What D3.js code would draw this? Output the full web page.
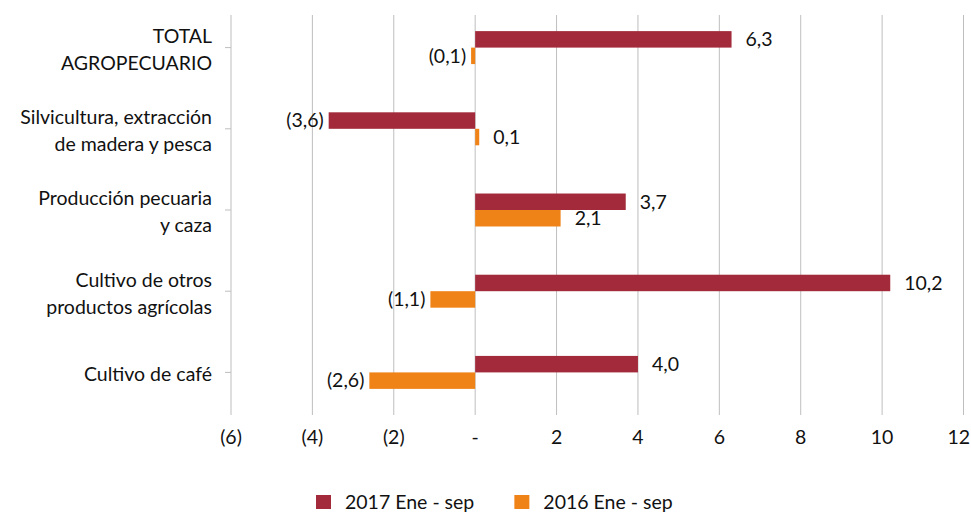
<!DOCTYPE html>
<html>
<head>
<meta charset="utf-8">
<script src="https://cdn.jsdelivr.net/npm/d3@7"></script>
<style>
  body { margin: 0; background: #fff; }
  svg { display: block; font-family: Lato, "Open Sans", sans-serif; }
</style>
</head>
<body>
<svg id="chart" width="971" height="513"></svg>
<script>
// data
const categories = [
  ["TOTAL", "AGROPECUARIO"],
  ["Silvicultura, extracción", "de madera y pesca"],
  ["Producción pecuaria", "y caza"],
  ["Cultivo de otros", "productos agrícolas"],
  ["Cultivo de café"]
];
const seriesNames = ["2017 Ene - sep", "2016 Ene - sep"];
const values2017 = [6.3, -3.6, 3.7, 10.2, 4.0];
const values2016 = [-0.1, 0.1, 2.1, -1.1, -2.6];
const xTicks = [-6, -4, -2, 0, 2, 4, 6, 8, 10, 12];
const colors = ["#A22A3A", "#EF8317"];

const svg = d3.select("#chart");
const W = 971;
const fs = 19.5;
const plotTop = 15, plotBottom = 415;

const x = d3.scaleLinear().domain([-6, 12]).range([231, 963.5]);
const catKeys = categories.map(c => c.join(" "));
const y = d3.scaleBand().domain(catKeys).range([7, 413]);
const barH = y.bandwidth() * 0.203;

const fmt = v => {
  const s = Math.abs(v).toFixed(1).replace(".", ",");
  return v < 0 ? "(" + s + ")" : s;
};
const tickFmt = v => v === 0 ? "-" : (v < 0 ? "(" + Math.abs(v) + ")" : String(v));

// gridlines
svg.append("g")
  .selectAll("line")
  .data(xTicks)
  .join("line")
  .attr("x1", d => x(d)).attr("x2", d => x(d))
  .attr("y1", plotTop).attr("y2", plotBottom)
  .attr("stroke", "#BEBEBE")
  .attr("stroke-width", 1);

// category tick marks
svg.append("g")
  .selectAll("line")
  .data(catKeys)
  .join("line")
  .attr("x1", x(-6) - 6).attr("x2", x(-6))
  .attr("y1", d => y(d) + y.bandwidth() / 2)
  .attr("y2", d => y(d) + y.bandwidth() / 2)
  .attr("stroke", "#BEBEBE");

// x tick labels (keep the last one inside the picture)
svg.append("g")
  .selectAll("text")
  .data(xTicks)
  .join("text")
  .attr("y", 437)
  .attr("dy", "0.35em")
  .attr("text-anchor", "middle")
  .attr("font-size", fs)
  .attr("fill", "#111")
  .text(tickFmt)
  .attr("x", function(d) {
    const half = this.getComputedTextLength() / 2;
    return Math.min(x(d), W - 1 - half);
  });

// category labels
const lab = svg.append("g")
  .selectAll("text")
  .data(categories)
  .join("text")
  .attr("text-anchor", "end")
  .attr("font-size", fs)
  .attr("fill", "#111")
  .attr("transform", (d, i) => `translate(212,${y(catKeys[i]) + y.bandwidth() / 2 + 2})`);
lab.selectAll("tspan")
  .data(d => d.map((t, j) => ({t, j, n: d.length})))
  .join("tspan")
  .attr("x", 0)
  .attr("y", d => (d.j - (d.n - 1) / 2) * 27)
  .attr("dy", "0.35em")
  .text(d => d.t);

// bars
const series = [values2017, values2016];
series.forEach((vals, si) => {
  const g = svg.append("g");
  const rows = vals.map((v, i) => ({v, key: catKeys[i]}));
  const yPos = d => y(d.key) + y.bandwidth() / 2 - barH + si * barH;
  g.selectAll("rect")
    .data(rows)
    .join("rect")
    .attr("x", d => x(Math.min(0, d.v)))
    .attr("width", d => Math.abs(x(d.v) - x(0)))
    .attr("y", yPos)
    .attr("height", barH)
    .attr("fill", colors[si]);
  g.selectAll("text")
    .data(rows)
    .join("text")
    .attr("x", d => d.v < 0 ? x(d.v) - 5 : x(d.v) + 14)
    .attr("y", d => yPos(d) + barH / 2)
    .attr("dy", "0.35em")
    .attr("text-anchor", d => d.v < 0 ? "end" : "start")
    .attr("font-size", fs)
    .attr("fill", "#111")
    .text(d => fmt(d.v));
});

// legend
const legend = svg.append("g");
const items = legend.selectAll("g")
  .data(seriesNames)
  .join("g");
items.append("rect")
  .attr("width", 15).attr("height", 14)
  .attr("y", -7)
  .attr("fill", (d, i) => colors[i]);
items.append("text")
  .attr("x", 29)
  .attr("dy", "0.35em")
  .attr("font-size", fs)
  .attr("fill", "#111")
  .text(d => d);
let lx = 316;
items.each(function() {
  d3.select(this).attr("transform", `translate(${lx},502)`);
  lx += this.getBBox().width + 40;
});
</script>
</body>
</html>
